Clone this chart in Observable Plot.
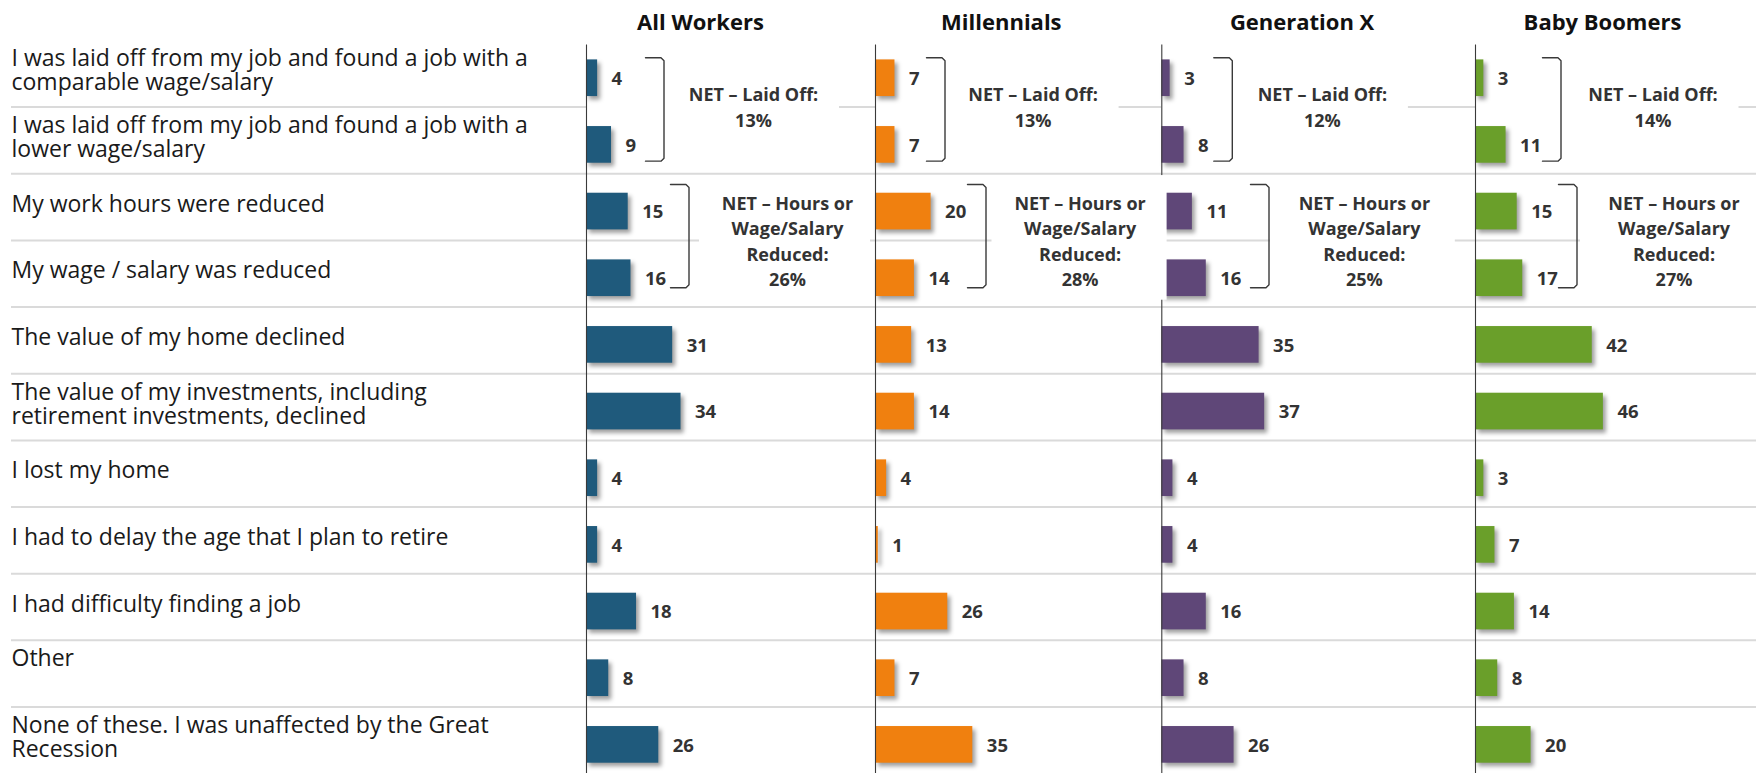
<!DOCTYPE html>
<html><head><meta charset="utf-8">
<script src="https://cdn.jsdelivr.net/npm/d3@7"></script>
<script src="https://cdn.jsdelivr.net/npm/@observablehq/plot@0.6"></script>
<style>
html,body{margin:0;padding:0;background:#fff;overflow:hidden}
#chart{position:relative;width:1756px;height:773px;background:#fff}
#chart svg{position:absolute;top:0}
</style></head><body><div id="chart"></div>
<script>
// ---------- data ----------
const categories = [
  "I was laid off from my job and found a job with a comparable wage/salary",
  "I was laid off from my job and found a job with a lower wage/salary",
  "My work hours were reduced",
  "My wage / salary was reduced",
  "The value of my home declined",
  "The value of my investments, including retirement investments, declined",
  "I lost my home",
  "I had to delay the age that I plan to retire",
  "I had difficulty finding a job",
  "Other",
  "None of these. I was unaffected by the Great Recession"
];
const tickLabels = [
  "I was laid off from my job and found a job with a\ncomparable wage/salary",
  "I was laid off from my job and found a job with a\nlower wage/salary",
  "My work hours were reduced",
  "My wage / salary was reduced",
  "The value of my home declined",
  "The value of my investments, including\nretirement investments, declined",
  "I lost my home",
  "I had to delay the age that I plan to retire",
  "I had difficulty finding a job",
  "Other\n",
  "None of these. I was unaffected by the Great\nRecession"
];
const groups = ["All Workers", "Millennials", "Generation X", "Baby Boomers"];
const allWorkers  = [4, 9, 15, 16, 31, 34, 4, 4, 18, 8, 26];
const millennials = [7, 7, 20, 14, 13, 14, 4, 1, 26, 7, 35];
const generationX = [3, 8, 11, 16, 35, 37, 4, 4, 16, 8, 26];
const babyBoomers = [3, 11, 15, 17, 42, 46, 3, 7, 14, 8, 20];
const netLaidOff = [13, 13, 12, 14];
const netHours   = [26, 28, 25, 27];
const netLaidOffLabel = "NET – Laid Off:";
const netHoursLabel = "NET – Hours or\nWage/Salary\nReduced:";
const laidOffRows = [0, 1];
const hoursRows = [2, 3];

// ---------- styling / layout ----------
const series = [allWorkers, millennials, generationX, babyBoomers];
const colors = ["#1f5a7c", "#f0800f", "#5f4778", "#6a9f2a"];
const PX = 2.78; // pixels per percentage point
const u = px => px / PX;
const layout = [
  {left: 0,    width: 872, axis: 586,    header: 114,   laidBr: 59, hoursBr: 84,   laidNet: 167,   hoursNet: 201,   hoursBox: [113, 284]},
  {left: 872,  width: 286, axis: 875,    header: 125.8, laidBr: 51, hoursBr: 92,   laidNet: 157.6, hoursNet: 204.6, hoursBox: [116.5, 291.6]},
  {left: 1158, width: 294, axis: 1161.3, header: 140.3, laidBr: 52, hoursBr: 88.7, laidNet: 160.6, hoursNet: 202.6, hoursBox: [108.7, 293.5]},
  {left: 1452, width: 304, axis: 1475,   header: 127,   laidBr: 67, hoursBr: 83,   laidNet: 177.5, hoursNet: 198.5, hoursBox: [105, 320]}
];
const FONT = '"Open Sans", "Noto Sans", sans-serif';
const container = document.getElementById("chart");

function bracket(xArm, yTop, yBot, key) {
  const armPx = 18.5, r = 3;
  const xr = xArm + armPx;
  const ry = r / 66.67;
  return [
    {k: key, x: u(xArm), y: yTop},
    {k: key, x: u(xr - r), y: yTop},
    {k: key, x: u(xr), y: yTop + ry},
    {k: key, x: u(xr), y: yBot - ry},
    {k: key, x: u(xr - r), y: yBot},
    {k: key, x: u(xArm), y: yBot}
  ];
}

groups.forEach((group, g) => {
  const L = layout[g];
  const axisRel = L.axis - L.left;
  const rows = categories.map((c, i) => ({cat: c, idx: i, value: series[g][i]}));
  const brackets = [
    ...bracket(L.laidBr, laidOffRows[0] + 0.193, laidOffRows[1] + 0.744, "laid"),
    ...bracket(L.hoursBr, hoursRows[0] + 0.094, hoursRows[1] + 0.644, "hours")
  ];
  const boxes = [
    {x1: 0, x2: u(L.laidNet + 86), y1: laidOffRows[1] - 0.15, y2: laidOffRows[1] + 0.1},
    {x1: u(L.hoursBox[0]), x2: u(L.hoursBox[1]), y1: hoursRows[0] - 0.04, y2: hoursRows[1] + 0.83}
  ];
  const nets = [
    {x: u(L.laidNet), y: laidOffRows[1], text: `${netLaidOffLabel}\n${netLaidOff[g]}%`, kind: "laid"},
    {x: u(L.hoursNet), y: hoursRows[1], text: `${netHoursLabel}\n${netHours[g]}%`, kind: "hours"}
  ];

  const marks = [
    // row separators
    Plot.ruleY(d3.range(1, categories.length), {y: d => d, dy: -4.5, stroke: "#dadada", strokeWidth: 2, insetLeft: g === 0 ? 11 : 0}),
    // white text boxes behind NET annotations
    Plot.rect(boxes, {x1: "x1", x2: "x2", y1: "y1", y2: "y2", fill: "white"}),
    // bar shadows
    Plot.rect(rows, {x1: 0, x2: "value", y1: "idx", y2: d => d.idx + 1, insetTop: 15, insetBottom: 15, dx: 3, dy: 3.5, fill: "#000", fillOpacity: 0.38, ariaDescription: "shadow"}),
    // bars
    Plot.rect(rows, {x1: 0, x2: "value", y1: "idx", y2: d => d.idx + 1, insetTop: 15, insetBottom: 15, fill: colors[g]}),
    // baseline axis
    Plot.ruleX([0], {y1: 0, y2: 11.5, stroke: "#3a3a3a", strokeWidth: 1.1}),
    // brackets
    Plot.line(brackets, {x: "x", y: "y", z: "k", stroke: "#3a3a3a", strokeWidth: 1.4}),
    // value labels
    Plot.text(rows, {x: "value", y: d => d.idx + 0.5, text: d => String(d.value), dx: 14, dy: 1, textAnchor: "start", lineAnchor: "middle", fontWeight: "bold", fontSize: 18.5, fill: "#333"}),
    // NET annotations
    Plot.text(nets.filter(d => d.kind === "laid"), {x: "x", y: "y", text: "text", dy: -6, textAnchor: "middle", lineAnchor: "middle", lineHeight: 1.48, fontWeight: "bold", fontSize: 18, fill: "#333"}),
    Plot.text(nets.filter(d => d.kind === "hours"), {x: "x", y: "y", text: "text", dy: -5, textAnchor: "middle", lineAnchor: "middle", lineHeight: 1.4, fontWeight: "bold", fontSize: 18, fill: "#333"}),
    // header
    Plot.text([group], {x: u(L.header), text: d => d, frameAnchor: "top", dy: 29.5, lineAnchor: "bottom", textAnchor: "middle", fontWeight: "bold", fontSize: 22, fill: "#111"})
  ];
  if (g === 0) {
    marks.push(Plot.text(rows, {y: d => d.idx + 0.5, text: d => tickLabels[d.idx], frameAnchor: "left", dx: 11, dy: -7.5, textAnchor: "start", lineAnchor: "middle", lineHeight: 1.04, fontSize: 23, fill: "#1a1a1a"}));
  }

  const svg = Plot.plot({
    width: L.width,
    height: 773,
    marginLeft: 0, marginRight: 0, marginTop: 0, marginBottom: 0,
    x: {domain: [0, 100], range: [axisRel, axisRel + 100 * PX], axis: null},
    y: {domain: [0, 11], range: [44.4, 777.7], axis: null},
    style: {background: "transparent", overflow: "visible", fontFamily: FONT},
    marks
  });
  svg.style.left = L.left + "px";
  svg.style.zIndex = String(10 - g);
  svg.style.maxWidth = "none";

  // soft drop shadow
  const ns = "http://www.w3.org/2000/svg";
  const defs = document.createElementNS(ns, "defs");
  const filter = document.createElementNS(ns, "filter");
  filter.setAttribute("id", `shadowBlur${g}`);
  filter.setAttribute("x", "-10%"); filter.setAttribute("y", "-10%");
  filter.setAttribute("width", "130%"); filter.setAttribute("height", "130%");
  const blur = document.createElementNS(ns, "feGaussianBlur");
  blur.setAttribute("stdDeviation", "2");
  filter.appendChild(blur);
  defs.appendChild(filter);
  svg.insertBefore(defs, svg.firstChild);
  const sh = svg.querySelector('g[aria-description="shadow"]');
  if (sh) sh.setAttribute("filter", `url(#shadowBlur${g})`);

  container.appendChild(svg);
});
</script></body></html>
